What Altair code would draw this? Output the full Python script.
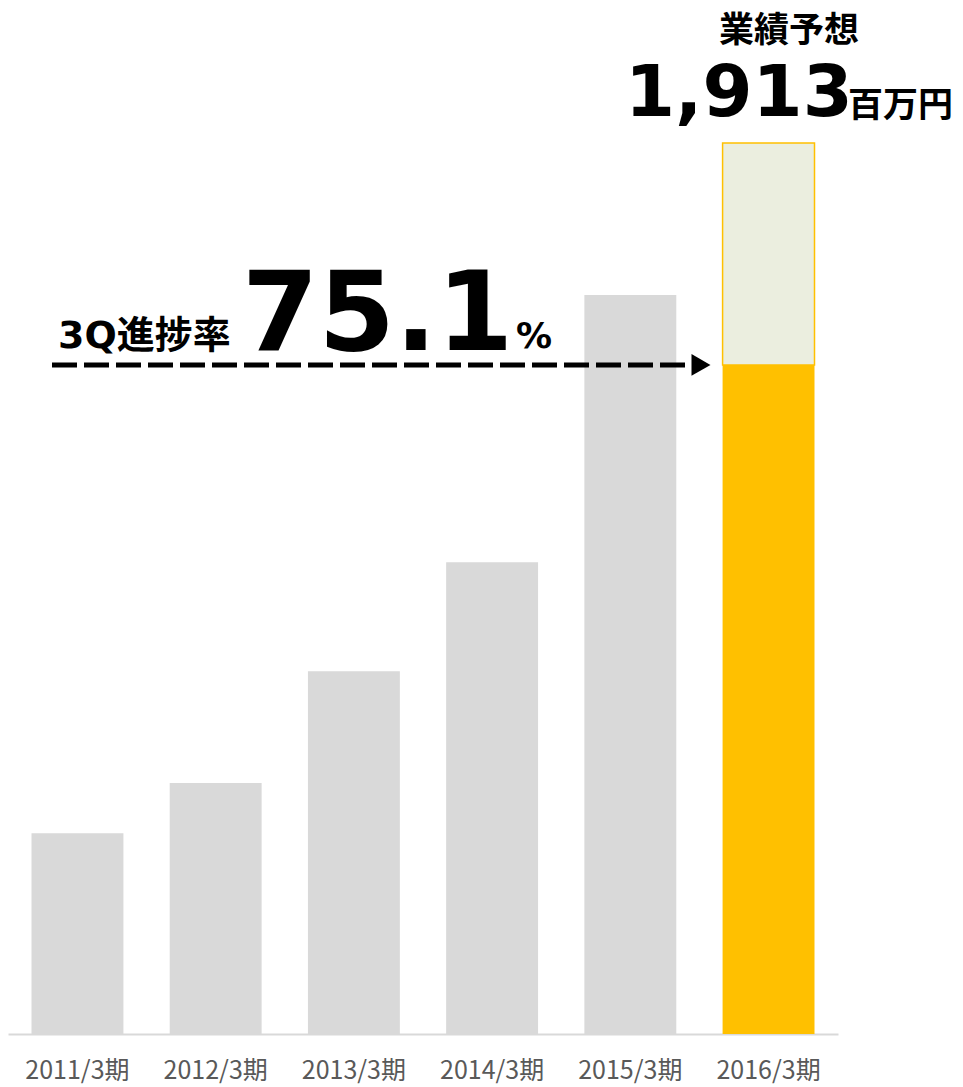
import altair as alt
import pandas as pd

years = ["2011/3期", "2012/3期", "2013/3期", "2014/3期", "2015/3期", "2016/3期"]
past_values = [431, 539, 779, 1013, 1587]
forecast = 1913
progress_rate = 75.1
actual_3q = forecast * progress_rate / 100

gray_df = pd.DataFrame({"year": years[:5], "value": past_values})
actual_df = pd.DataFrame({"year": [years[5]], "value": [actual_3q]})
rest_df = pd.DataFrame({"year": [years[5]], "low": [actual_3q], "high": [forecast]})

Y_MAX = 2203
xenc = alt.X("year:N", sort=years, title=None,
             scale=alt.Scale(paddingInner=0.335, paddingOuter=0.17),
             axis=alt.Axis(labelAngle=0, labelFontSize=25, labelColor="#595959",
                           labelFont="Noto Sans CJK JP", ticks=False, labelPadding=24,
                           domainColor="#D9D9D9", domainWidth=2, grid=False))
yscale = alt.Scale(domain=[0, Y_MAX], nice=False)

base = alt.Chart(gray_df)
gray = base.mark_bar(color="#D9D9D9").encode(
    x=xenc, y=alt.Y("value:Q", scale=yscale, axis=None))
orange = alt.Chart(actual_df).mark_bar(color="#FFC000").encode(
    x=alt.X("year:N", sort=years), y=alt.Y("value:Q", scale=yscale))
rest = alt.Chart(rest_df).mark_bar(color="#EBEEDF", stroke="#FFC000", strokeWidth=1.5).encode(
    x=alt.X("year:N", sort=years), y=alt.Y("low:Q", scale=yscale), y2="high:Q")

ann = pd.DataFrame({"v": [actual_3q]})
arrow_line = alt.Chart(ann).mark_rule(color="black", strokeWidth=5, strokeDash=[25, 7]).encode(
    x=alt.value(44), x2=alt.value(684), y=alt.Y("v:Q", scale=yscale))
arrow_head = alt.Chart(ann).mark_point(shape="triangle-right", filled=True, color="black",
                                       size=480, opacity=1).encode(
    x=alt.value(693), y=alt.Y("v:Q", scale=yscale))

def txt(s, xpx, yval, size, align="left", baseline="alphabetic", font="DejaVu Sans, Noto Sans CJK JP"):
    d = pd.DataFrame({"t": [s], "v": [yval]})
    return alt.Chart(d).mark_text(align=align, baseline=baseline, fontSize=size,
                                  fontWeight="bold", font=font, color="black").encode(
        x=alt.value(xpx), y=alt.Y("v:Q", scale=yscale), text="t:N")

t1 = txt("業績予想", 781, 2130, 35, align="center")
t2 = txt(f"{forecast:,}", 617, 1971, 72)
t3 = txt("百万円", 840, 1968, 35, font="Noto Sans CJK JP")
t4 = txt("3Q進捗率", 50, 1473, 38)
t5 = txt(f"{progress_rate}", 234, 1468, 110)
t6 = txt("%", 508, 1473, 36)

chart = alt.layer(gray, orange, rest, arrow_line, arrow_head, t1, t2, t3, t4, t5, t6).properties(
    width=830, height=1026, padding={"left": 0, "top": 0, "right": 0, "bottom": 8}
).configure_view(stroke=None)

chart.save("out.html", embed_options={"renderer": "svg", "actions": False})
